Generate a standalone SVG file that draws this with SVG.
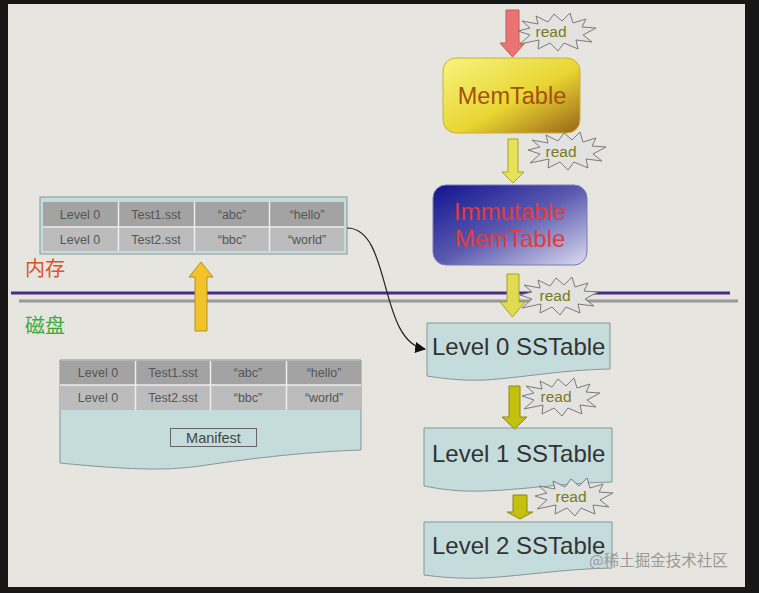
<svg xmlns="http://www.w3.org/2000/svg" width="759" height="593" viewBox="0 0 759 593">
<defs>
<style>
.t{font-family:"Liberation Sans",Arial,sans-serif}
.cell{font-family:"Liberation Sans",Arial,sans-serif;font-size:12.5px;fill:#555;text-anchor:middle}
.big{font-family:"Liberation Sans",Arial,sans-serif;font-size:24px;fill:#333}
.doc{fill:#c5dcdc;stroke:#8a9595;stroke-width:1}
.r1{fill:#a3a3a3}
.r2{fill:#bcbcbc}
.sep{stroke:#eeeeee;stroke-width:1.5}
.burst{fill:#e2e2e0;stroke:#7a7a7a;stroke-width:1}
.rd{font-family:"Liberation Sans",Arial,sans-serif;font-size:15.5px;fill:#7a7a20;text-anchor:middle}
.cjk{font-family:"Noto Sans CJK SC",sans-serif;font-size:20px}
</style>
<linearGradient id="gMem" x1="0" y1="0" x2="1" y2="1">
<stop offset="0" stop-color="#f8f480"/>
<stop offset="0.55" stop-color="#e8d632"/>
<stop offset="1" stop-color="#9a6418"/>
</linearGradient>
<linearGradient id="gImm" x1="0" y1="0" x2="1" y2="1">
<stop offset="0" stop-color="#121290"/>
<stop offset="0.5" stop-color="#5a5ab0"/>
<stop offset="1" stop-color="#dcdcf0"/>
</linearGradient>
<polygon id="burst" points="40,-4 27,3 36,10 20,8 22,17 8,11 2,19 -6,11 -18,17 -17,8 -36,12 -26,3 -38,-1 -26,-4 -34,-11 -18,-8 -20,-16 -8,-10 -2,-18 6,-11 14,-19 17,-9 30,-13 26,-5" class="burst"/>
<marker id="ah" viewBox="0 0 10 10" refX="9" refY="5" markerWidth="11" markerHeight="11" markerUnits="userSpaceOnUse" orient="auto">
<path d="M0,0 L10,5 L0,10 Z" fill="#111"/>
</marker>
</defs>
<rect x="0" y="0" width="759" height="593" fill="#171717"/>
<rect x="8" y="4" width="737" height="583" fill="#e6e5e0"/>

<g id="divider">
<line x1="11" y1="293" x2="730" y2="293" stroke="#4a2d86" stroke-width="3"/>
<line x1="19" y1="301" x2="738" y2="301" stroke="#999" stroke-width="3"/>
</g>

<g id="label-mem"><text x="25" y="276" class="cjk" fill="#d4542c">内存</text></g>
<g id="label-disk"><text x="25" y="333" class="cjk" fill="#3aaa3a">磁盘</text></g>

<g id="mem-table">
<rect x="40" y="197" width="307" height="57" fill="#c5dcdc" stroke="#8a9898"/>
<rect x="43" y="202" width="301" height="25" class="r1"/>
<rect x="43" y="227" width="301" height="24" class="r2"/>
<line x1="43" y1="227" x2="344" y2="227" class="sep"/>
<line x1="118.5" y1="202" x2="118.5" y2="251" class="sep"/>
<line x1="194.5" y1="202" x2="194.5" y2="251" class="sep"/>
<line x1="269.5" y1="202" x2="269.5" y2="251" class="sep"/>
<text x="80" y="219" class="cell">Level 0</text>
<text x="156" y="219" class="cell">Test1.sst</text>
<text x="232" y="219" class="cell">“abc”</text>
<text x="307" y="219" class="cell">“hello”</text>
<text x="80" y="244" class="cell">Level 0</text>
<text x="156" y="244" class="cell">Test2.sst</text>
<text x="232" y="244" class="cell">“bbc”</text>
<text x="307" y="244" class="cell">“world”</text>
</g>

<g id="manifest">
<path d="M60,360 H361 V450 C300,452 240,460 200,466 C170,470 140,471 60,463 Z" class="doc"/>
<rect x="60" y="361" width="301" height="24" class="r1"/>
<rect x="60" y="385" width="301" height="25" class="r2"/>
<line x1="60" y1="385" x2="361" y2="385" class="sep"/>
<line x1="135.5" y1="361" x2="135.5" y2="410" class="sep"/>
<line x1="210.5" y1="361" x2="210.5" y2="410" class="sep"/>
<line x1="286.5" y1="361" x2="286.5" y2="410" class="sep"/>
<text x="98" y="377" class="cell">Level 0</text>
<text x="173" y="377" class="cell">Test1.sst</text>
<text x="248" y="377" class="cell">“abc”</text>
<text x="324" y="377" class="cell">“hello”</text>
<text x="98" y="402" class="cell">Level 0</text>
<text x="173" y="402" class="cell">Test2.sst</text>
<text x="248" y="402" class="cell">“bbc”</text>
<text x="324" y="402" class="cell">“world”</text>
<rect x="170.5" y="428.5" width="86" height="18" fill="#c5dcdc" stroke="#666"/>
<text x="213.5" y="443" class="t" font-size="14.5" fill="#444" text-anchor="middle">Manifest</text>
</g>

<g id="memtable">
<rect x="443" y="58" width="137" height="75" rx="13" fill="url(#gMem)" stroke="#c8b040"/>
<text x="512" y="104" class="t" font-size="23.5" fill="#a4500e" text-anchor="middle">MemTable</text>
</g>

<g id="immutable">
<rect x="433" y="185" width="154" height="80" rx="13" fill="url(#gImm)" stroke="#7a7ab0"/>
<text x="510" y="220" class="t" font-size="24" fill="#e03c3c" text-anchor="middle">Immutable</text>
<text x="510" y="247" class="t" font-size="24" fill="#e03c3c" text-anchor="middle">MemTable</text>
</g>

<g id="level0">
<path d="M427,323 H610 V369 C560,370 520,378 485,380 C460,381 440,378 427,376 Z" class="doc"/>
<text x="432" y="355" class="big">Level 0 SSTable</text>
</g>
<g id="level1">
<path d="M424,428 H612 V482 C562,483 522,490 484,491 C458,492 440,489 424,486 Z" class="doc"/>
<text x="432" y="462" class="big">Level 1 SSTable</text>
</g>
<g id="level2">
<path d="M424,522 H612 V568 C562,569 522,576 484,578 C458,579 440,577 424,575 Z" class="doc"/>
<text x="432" y="554" class="big">Level 2 SSTable</text>
</g>

<g id="connectors">
<path d="M506,10 H519 V43 H525 L512.5,57 L500,43 H506 Z" fill="#ea7474" stroke="#c05a5a"/>
<path d="M508,139 H518 V172 H524 L513,183 L502,172 H508 Z" fill="#e6e25a" stroke="#a8a030"/>
<path d="M507,274 H519 V302 H525 L512.5,317 L500,302 H507 Z" fill="#e0dc52" stroke="#a8a030"/>
<path d="M509,386 H520 V417 H527 L514.5,429 L502,417 H509 Z" fill="#c4c010" stroke="#8a8a10"/>
<path d="M513,495 H527 V512 H533 L520,519 L507,512 H513 Z" fill="#c4c010" stroke="#8a8a10"/>
<path d="M195,331 V277 H189 L201,262 L213,277 H207 V331 Z" fill="#f2c42a" stroke="#b89020"/>
<path d="M347,228 C392,228 378,342 425,349" fill="none" stroke="#222" stroke-width="1.2" marker-end="url(#ah)"/>
</g>

<g id="read1"><use href="#burst" transform="translate(556,32)"/><text x="551" y="37" class="rd">read</text></g>
<g id="read2"><use href="#burst" transform="translate(566,151)"/><text x="561" y="157" class="rd">read</text></g>
<g id="read3"><use href="#burst" transform="translate(558,296)"/><text x="555" y="301" class="rd">read</text></g>
<g id="read4"><use href="#burst" transform="translate(560,397)"/><text x="556" y="402" class="rd">read</text></g>
<g id="read5"><use href="#burst" transform="translate(573,497)"/><text x="571" y="502" class="rd">read</text></g>

<g id="watermark"><text x="589" y="566" font-family="'Noto Sans CJK SC',sans-serif" font-size="15.5" fill="#9a9a9a">@稀土掘金技术社区</text></g>
</svg>
